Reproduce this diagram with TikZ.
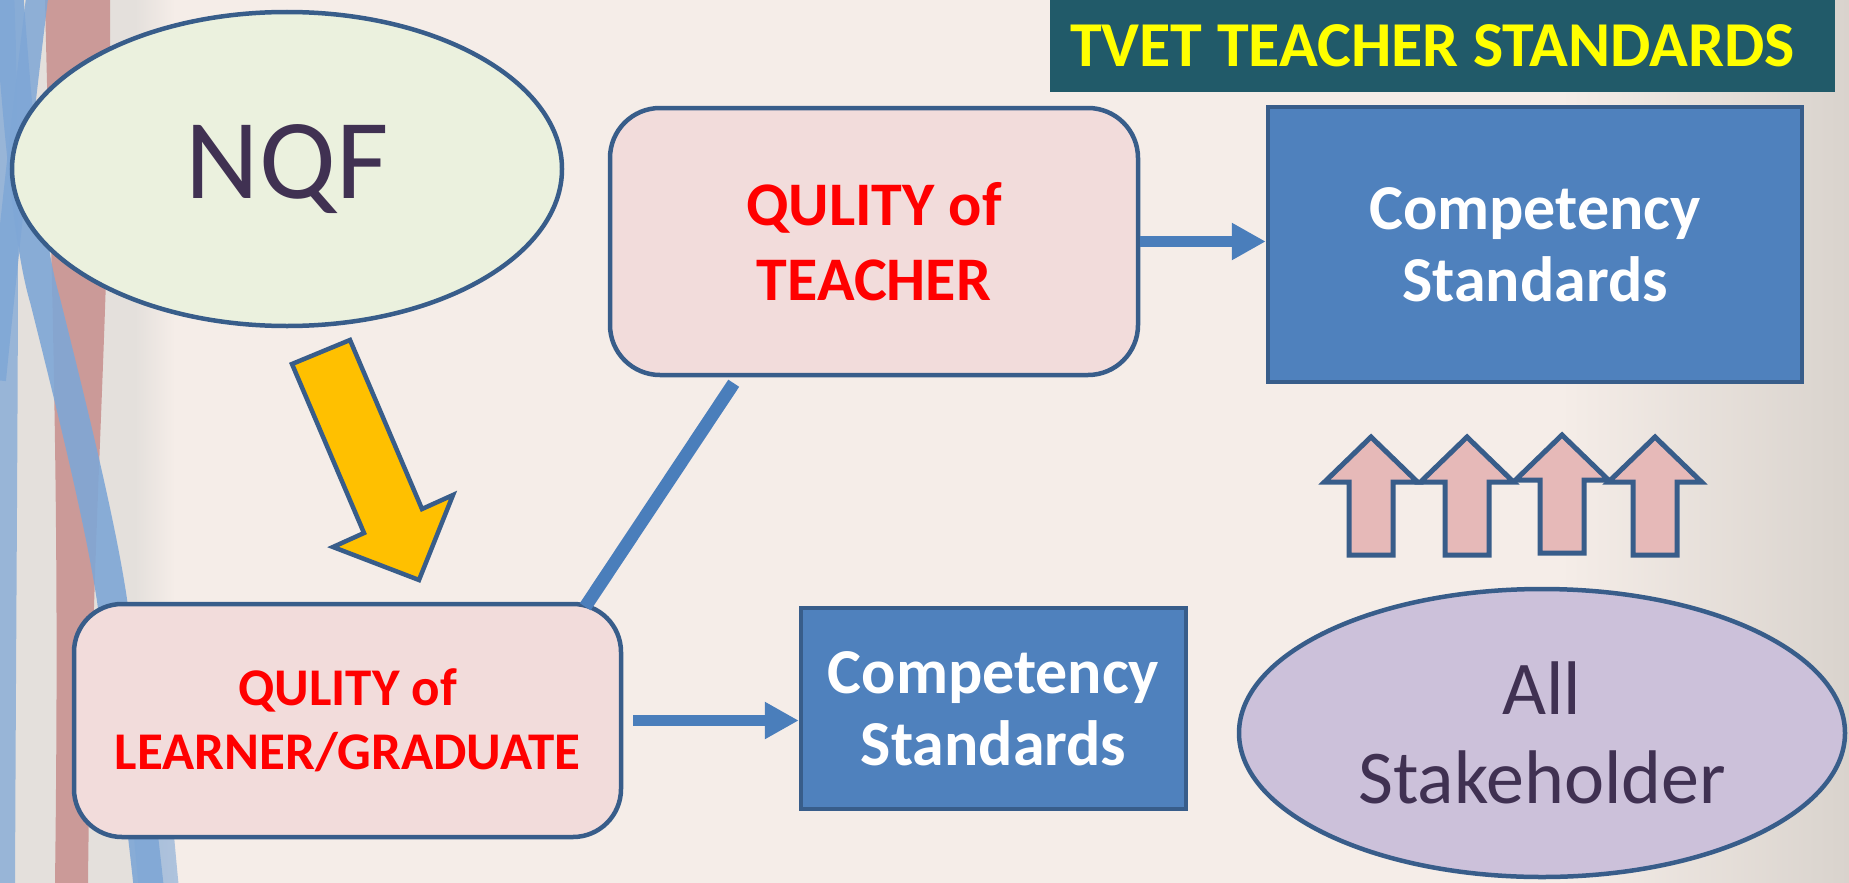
\documentclass[tikz,border=0pt]{standalone}
\usepackage{fontspec}
\setmainfont{Carlito}
\usetikzlibrary{arrows.meta,calc,shapes.geometric}
\definecolor{bgc}{HTML}{F5EDE8}
\definecolor{bgr}{HTML}{D9D3CD}
\definecolor{bordc}{HTML}{385D8A}
\definecolor{nqfc}{HTML}{EBF1DE}
\definecolor{lavc}{HTML}{CCC1DA}
\definecolor{pinkbox}{HTML}{F2DCDB}
\definecolor{blueb}{HTML}{4F81BD}
\definecolor{connc}{HTML}{4A7EBB}
\definecolor{txtc}{HTML}{403152}
\definecolor{titlec}{HTML}{215A69}
\definecolor{yelc}{HTML}{FFFF00}
\definecolor{arrc}{HTML}{FFC000}
\definecolor{pinkarr}{HTML}{E6B9B8}
\definecolor{ribblue}{HTML}{7FA7D6}
\definecolor{ribpink}{HTML}{C99391}
\definecolor{ribgray}{HTML}{E4E0DC}
\tikzset{
  ell/.style={ellipse, draw=bordc, line width=4.5pt, text=txtc, align=center},
  rbox/.style={rectangle, draw=bordc, line width=4.5pt, fill=pinkbox, rounded corners=50pt,
    text=red, align=center, font=\bfseries\fontsize{62}{75}\selectfont},
  bbox/.style={rectangle, draw=bordc, line width=4.5pt, fill=blueb, text=white, align=center,
    font=\bfseries\fontsize{64}{72}\selectfont},
  conn/.style={draw=connc, line width=11pt},
  conntip/.style={-{Triangle[length=34pt,width=35pt]}},
  pinkarrow/.style={draw=bordc, line width=5pt, fill=pinkarr, line join=miter},
  uparr/.pic={\path[pinkarrow] (0,0) -- (46.5,45) -- (22,45) -- (22,118) -- (-22,118) -- (-22,45) -- (-46.5,45) -- cycle;}
}
\begin{document}
\begin{tikzpicture}[x=1pt,y=-1pt]
\useasboundingbox (0,0) rectangle (1849,883);
% background
\fill[bgc] (0,0) rectangle (1849,883);
\shade[left color=bgc, right color=bgr] (1560,0) rectangle (1849,883);
\begin{scope}
\clip (0,0) rectangle (1849,883);
\fill[ribgray] (0,0) rectangle (135,883);
\shade[left color=ribgray, right color=bgc] (135,0) rectangle (175,883);
\fill[ribpink, opacity=0.9] (45,0) .. controls (52,300) and (60,500) .. (55,883) -- (88,883) .. controls (92,500) and (112,300) .. (110,0) -- cycle;
\draw[ribblue, opacity=0.85, line width=22pt] (38,-10) .. controls (22,120) and (8,250) .. (-5,380);
\draw[ribblue, opacity=0.75, line width=18pt] (5,-10) .. controls (12,150) and (8,400) .. (6,890);
\draw[ribblue, opacity=0.9, line width=30pt] (8,-10) .. controls (20,150) and (30,250) .. (45,300) .. controls (70,400) and (100,520) .. (112,600) .. controls (125,700) and (140,800) .. (150,900);
\draw[ribblue, opacity=0.6, line width=40pt] (135,620) .. controls (145,720) and (150,800) .. (160,900);
\end{scope}
% title
\node[rectangle, fill=titlec, anchor=north west, minimum width=785pt, minimum height=92pt,
  inner xsep=20pt, text=yelc,
  font=\bfseries\fontsize{64}{70}\selectfont] (title) at (1050,0) {\makebox[745pt][l]{TVET TEACHER STANDARDS}};
% main nodes
\node[ell, fill=nqfc, minimum width=550pt, minimum height=314pt,
  font=\fontsize{114}{120}\selectfont] (nqf) at (287,169) {NQF};
\node[rbox, minimum width=528pt, minimum height=267pt] (teacher) at (874,241.5) {QULITY of\\TEACHER};
\node[bbox, minimum width=534pt, minimum height=275pt] (comp1) at (1535,244.5) {Competency\\Standards};
\node[rbox, rounded corners=48pt, minimum width=547pt, minimum height=233pt,
  font=\bfseries\fontsize{53}{64}\selectfont] (learner) at (347.5,720.5) {QULITY of\\LEARNER/GRADUATE};
\node[bbox, minimum width=385pt, minimum height=201pt] (comp2) at (993.5,708.5) {Competency\\Standards};
\node[ell, fill=lavc, minimum width=606pt, minimum height=288pt,
  font=\fontsize{76}{89}\selectfont] (stake) at (1542,733) {All\\Stakeholder};
% yellow block arrow from NQF to learner
\path[draw=bordc, line width=4.5pt, fill=arrc, line join=miter]
  (350,340) -- (422,509) -- (453,495) -- (419,580) -- (333,547) -- (364,533) -- (292,364) -- cycle;
% pink arrows from stakeholders up to competency standards
\pic (up1) at (1371,437) {uparr};
\pic (up2) at (1467,437) {uparr};
\pic (up3) at (1562,435) {uparr};
\pic (up4) at (1655,437) {uparr};
% connectors
\draw[conn, conntip] (teacher.east) -- (teacher.east -| comp1.west);
\draw[conn, conntip] ([xshift=10pt]learner.east) -- (learner.east -| comp2.west);
\draw[conn, line width=13pt] ($(teacher.south west)+(126,6)$) -- ($(learner.north east)+(-38,5)$);
\end{tikzpicture}
\end{document}
